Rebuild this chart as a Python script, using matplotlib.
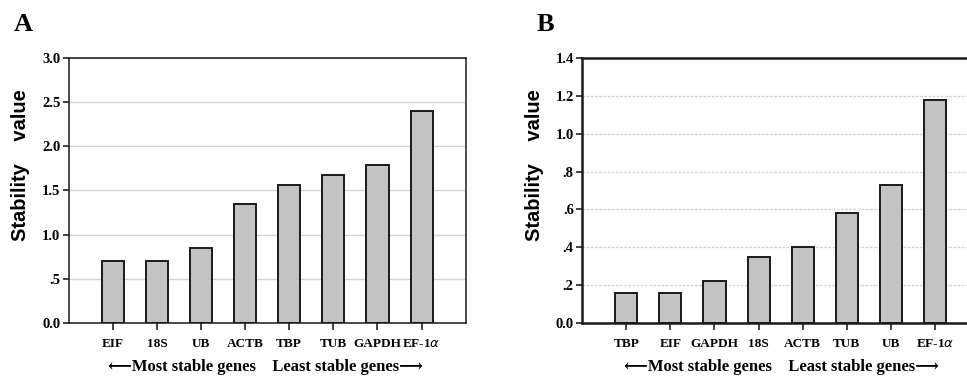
import matplotlib
matplotlib.use("Agg")
import matplotlib.pyplot as plt

genes_a = ["EIF", "18S", "UB", "ACTB", "TBP", "TUB", "GAPDH", "EF-1$\\alpha$"]
vals_a = [0.70, 0.70, 0.85, 1.35, 1.56, 1.68, 1.79, 2.40]
yticks_a = [0.0, 0.5, 1.0, 1.5, 2.0, 2.5, 3.0]
ylabels_a = ["0.0", ".5", "1.0", "1.5", "2.0", "2.5", "3.0"]

genes_b = ["TBP", "EIF", "GAPDH", "18S", "ACTB", "TUB", "UB", "EF-1$\\alpha$"]
vals_b = [0.16, 0.16, 0.22, 0.35, 0.40, 0.58, 0.73, 1.18]
yticks_b = [0.0, 0.2, 0.4, 0.6, 0.8, 1.0, 1.2, 1.4]
ylabels_b = ["0.0", ".2", ".4", ".6", ".8", "1.0", "1.2", "1.4"]

serif = ["Liberation Serif", "DejaVu Serif"]
arrow_text = "\u27f5Most stable genes    Least stable genes\u27f6"

fig = plt.figure(figsize=(9.67, 3.76), dpi=100)


def panel(rect, genes, vals, yticks, ylabels, ymax, letter, letter_x,
          ylab_x, arrow_x, spine_w, grid_ls):
    ax = fig.add_axes(rect)
    x = list(range(len(genes)))
    ax.bar(x, vals, width=0.5, color="#c3c3c3", edgecolor="#1a1a1a",
           linewidth=1.4, zorder=3)
    ax.set_xlim(-1, 8)
    ax.set_ylim(0, ymax)
    ax.set_yticks(yticks)
    ax.set_yticklabels(ylabels, fontfamily=serif, fontweight="bold", fontsize=10.5)
    ax.set_xticks(x)
    ax.set_xticklabels(genes, fontfamily=serif, fontweight="bold", fontsize=9.5)
    ax.tick_params(axis="x", length=5, width=1.2, pad=6, color="#222")
    ax.tick_params(axis="y", length=4, width=1.2, pad=2, color="#222")
    ax.yaxis.grid(True, color="#cfd8cf", linewidth=1.0, linestyle=grid_ls, zorder=0)
    ax.set_axisbelow(True)
    for s in ax.spines.values():
        s.set_linewidth(spine_w)
        s.set_color("#1a1a1a")
    fig.text(letter_x, 0.935, letter, fontfamily=serif, fontweight="bold",
             fontsize=19, ha="left", va="center")
    fig.text(ylab_x, 0.56, "Stability    value", rotation=90,
             fontfamily=["Liberation Sans", "DejaVu Sans"], fontweight="bold",
             fontsize=14.5, ha="center", va="center")
    fig.text(arrow_x, 0.025, arrow_text, fontfamily=serif, fontweight="bold",
             fontsize=12, ha="center", va="center")
    return ax


panel([0.071, 0.141, 0.4106, 0.705], genes_a, vals_a, yticks_a, ylabels_a,
      3.0, "A", 0.014, 0.021, 0.275, 1.1, "-")
panel([0.602, 0.141, 0.4106, 0.705], genes_b, vals_b, yticks_b, ylabels_b,
      1.4, "B", 0.555, 0.553, 0.808, 1.8, (0, (2, 1)))

fig.savefig("out.png", dpi=100)
